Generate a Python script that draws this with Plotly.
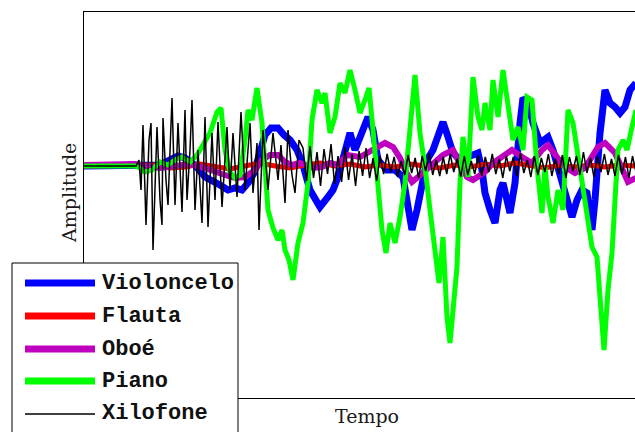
import numpy as np
import plotly.graph_objects as go

# ---------------- data (time in s, amplitude in arbitrary units) ----------------
names = ["Violoncelo", "Flauta", "Oboé", "Piano", "Xilofone"]
colors = ["#0000ff", "#ff0000", "#bf00bf", "#00ff00", "#000000"]
widths = [7, 5, 6, 5, 1.5]

t_violoncelo = [0, 0.56, 0.66, 0.76, 0.86, 0.94, 1.01, 1.11, 1.21, 1.28, 1.36, 1.44, 1.51, 1.58,
                1.64, 1.70, 1.76, 1.81, 1.87, 1.94, 2.00, 2.06, 2.13, 2.19, 2.26, 2.31, 2.36, 2.44,
                2.49, 2.54, 2.61, 2.66, 2.71, 2.78, 2.84, 2.89, 2.94, 3.03, 3.11, 3.19, 3.24, 3.28,
                3.33, 3.38, 3.43, 3.49, 3.54, 3.59, 3.64, 3.69, 3.76, 3.86, 3.94, 3.98, 4.01, 4.06,
                4.11, 4.16, 4.19, 4.26, 4.31, 4.36, 4.39, 4.44, 4.49, 4.56, 4.64, 4.69, 4.76, 4.83,
                4.88, 4.93, 4.98, 5.03, 5.08, 5.11, 5.16, 5.21, 5.26, 5.31, 5.36, 5.41, 5.46, 5.52]
a_violoncelo = [0, 0, 0, 1, 6, 10, 8, 1, -11, -14, -19, -24, -22, -24,
                -17, -7, 16, 31, 38, 38, 31, 26, 16, 1, -24, -34, -41, -31,
                -24, -11, 16, 33, 16, 33, 49, 36, 6, -4, -4, -11, -37, -64,
                -44, -17, 6, 16, 29, 44, 29, 13, 6, 9, 13, -4, -27, -44,
                -57, -24, -17, -47, -17, 43, 68, 63, 43, 23, 29, 16, -11, -37,
                -51, -34, -24, -27, -64, -34, 33, 76, 63, 59, 53, 59, 76, 83]

t_flauta = [0, 0.56, 0.71, 0.86, 1.01, 1.16, 1.31, 1.46, 1.61, 1.76, 1.91, 2.06, 2.21, 2.36,
            2.51, 2.66, 2.81, 2.96, 3.11, 3.26, 3.41, 3.56, 3.71, 3.86, 4.01, 4.16, 4.31, 4.46,
            4.61, 4.76, 4.91, 5.06, 5.21, 5.36, 5.52]
a_flauta = [0, 0, 1, -2, -1, 2, -1, -3, 0, 3, 0, -2, 1, 3,
            0, 2, -1, 1, -1, 2, 0, -2, 1, -1, 2, 0, 3, 0,
            -2, 1, -1, 1, -1, 1, 0]

t_oboe = [0, 0.51, 0.61, 0.76, 0.91, 1.06, 1.21, 1.31, 1.41, 1.51, 1.61, 1.71, 1.78, 1.86,
          1.94, 2.01, 2.08, 2.16, 2.23, 2.29, 2.38, 2.46, 2.54, 2.63, 2.76, 2.89, 3.01, 3.09,
          3.16, 3.22, 3.28, 3.34, 3.42, 3.49, 3.59, 3.69, 3.76, 3.83, 3.89, 4.01, 4.09, 4.18,
          4.28, 4.38, 4.48, 4.58, 4.64, 4.73, 4.81, 4.91, 5.01, 5.14, 5.21, 5.31, 5.38, 5.44, 5.52]
a_oboe = [1, 2, 0, -2, 0, 2, -2, -6, -9, -12, -11, -4, 6, 11,
          11, 4, 1, 3, 1, -2, -1, 3, 1, 11, 9, 16, 23, 19,
          8, -6, -16, -11, -4, 1, 11, 16, 1, -11, -14, -6, 3, 9,
          16, 9, 3, 16, 21, 9, -1, -7, -2, 19, 23, 13, -1, -16, -12]

t_piano = [0, 0.51, 0.56, 0.61, 0.68, 0.76, 0.84, 0.91, 0.98, 1.06, 1.13, 1.19, 1.26, 1.33,
           1.37, 1.41, 1.46, 1.51, 1.56, 1.61, 1.64, 1.68, 1.73, 1.78, 1.81, 1.84, 1.89, 1.94,
           1.98, 2.01, 2.05, 2.09, 2.14, 2.19, 2.24, 2.28, 2.33, 2.38, 2.41, 2.46, 2.51, 2.56,
           2.61, 2.66, 2.71, 2.76, 2.81, 2.85, 2.89, 2.94, 2.98, 3.02, 3.06, 3.11, 3.16, 3.21,
           3.26, 3.31, 3.36, 3.41, 3.46, 3.51, 3.55, 3.59, 3.63, 3.66, 3.69, 3.73, 3.76, 3.79,
           3.84, 3.89, 3.94, 3.98, 4.01, 4.06, 4.09, 4.14, 4.19, 4.24, 4.29, 4.34, 4.39, 4.43,
           4.48, 4.53, 4.58, 4.61, 4.64, 4.69, 4.74, 4.79, 4.84, 4.89, 4.94, 4.99, 5.04, 5.08,
           5.13, 5.16, 5.20, 5.24, 5.28, 5.31, 5.34, 5.39, 5.43, 5.48, 5.52]
a_piano = [0, 0, -2, -6, -4, 4, 1, 6, 9, 4, 11, 21, 33, 54,
           58, 16, -6, -12, -9, 26, 56, 46, 78, 43, -4, -44, -62, -74,
           -64, -84, -94, -114, -77, -57, -17, 46, 76, 63, 73, 33, 49, 83,
           73, 96, 76, 53, 66, 78, 36, -17, -64, -87, -57, -77, -51, -17,
           33, 91, 33, -1, -44, -91, -117, -71, -151, -177, -144, -101, -17, 29,
           -11, 89, 49, 36, 63, 36, 86, 49, 96, 56, 26, 39, 16, 69,
           66, -1, -47, -1, -31, -57, -24, -44, 56, 43, 9, -24, -61, -81,
           -91, -127, -184, -124, -87, -34, 16, 26, 16, 39, 56]

# Xilofone: attack section (irregular samples) + sustained section (evenly sampled)
t_xilofone_attack = [0, 0.52, 0.55, 0.57, 0.59, 0.62, 0.65, 0.67, 0.69, 0.73, 0.76, 0.78, 0.79,
                     0.82, 0.84, 0.88, 0.91, 0.94, 0.98, 1.01, 1.03, 1.06, 1.08, 1.11, 1.14, 1.18,
                     1.21, 1.24, 1.28, 1.31, 1.34, 1.38, 1.43, 1.46, 1.49, 1.53, 1.57, 1.61, 1.66,
                     1.69, 1.73, 1.75, 1.79, 1.84, 1.89, 1.94, 1.97, 2.01, 2.04, 2.08, 2.11, 2.15]
a_xilofone_attack = [0, 0, 6, -24, 41, -59, 26, 43, -84, 39, -34, -59, 48,
                     -14, -39, 68, -39, 43, -46, 56, -34, 16, 66, -44, 16, -57,
                     49, -61, 33, -34, 44, -41, 39, -24, 33, -31, 54, -24, 43,
                     -27, 23, -64, 36, -24, 33, -14, 21, -37, 36, -9, -27, 26]
a_xilofone_sustain = [18, -15, 20, -12, 14, -20, 17, -8, 22, -18, 10, -16, 19, -14, 12, -20,
                      15, -10, 18, -12, 8, -15,
                      10, -8, 12, -6, 9, -11, 5, -9, 11, -7, 8, -12, 10, -5, 13, -9, 6, -10,
                      9, -8, 12, -6, 7, -11, 10, -9, 5, -8, 11, -10, 9, -6, 12, -8, 7, -12,
                      10, -5, 9, -10, 13, -7, 6, -11, 10, -9, 8, -6, 12, -10, 7, -8, 11, -12,
                      9, -5, 10, -9, 14, -7, 8, -11, 10, -6, 12, -9, 7, -10, 11, -8, 9, -12,
                      10, -6]
t_xilofone_sustain_start, t_xilofone_end = 2.19, 5.52

t_xilofone = t_xilofone_attack + list(np.linspace(t_xilofone_sustain_start, t_xilofone_end,
                                                  len(a_xilofone_sustain)))
a_xilofone = a_xilofone_attack + a_xilofone_sustain

series_t = [t_violoncelo, t_flauta, t_oboe, t_piano, t_xilofone]
series_a = [a_violoncelo, a_flauta, a_oboe, a_piano, a_xilofone]

x_range = [0, 5.51]
y_range = [-232, 154]

# ---------------- figure ----------------
W, H = 635, 432
ML, MR, MT, MB = 84, 0, 12, 34
PW, PH = W - ML - MR, H - MT - MB


def px_x(px):
    return (px - ML) / PW


def px_y(py):
    return (H - MB - py) / PH


fig = go.Figure()
for name, col, w, t, a in zip(names, colors, widths, series_t, series_a):
    fig.add_trace(go.Scatter(x=t, y=a, mode="lines", name=name,
                             line=dict(color=col, width=w), showlegend=False))

fig.update_layout(
    width=W, height=H,
    margin=dict(l=ML, r=MR, t=MT, b=MB, pad=0),
    paper_bgcolor="white", plot_bgcolor="white",
    xaxis=dict(range=x_range, showline=True, mirror=True, linecolor="black", linewidth=1,
               showgrid=False, zeroline=False, showticklabels=False, ticks=""),
    yaxis=dict(range=y_range, showline=True, mirror=False, linecolor="black", linewidth=1,
               showgrid=False, zeroline=False, showticklabels=False, ticks=""),
    hovermode=False,
)

label_font = dict(family="DejaVu Serif", size=19, color="#1a1a1a")
fig.add_annotation(text="Tempo", xref="paper", yref="paper", x=px_x(367), y=px_y(416),
                   xanchor="center", yanchor="middle", showarrow=False, font=label_font)
fig.add_annotation(text="Amplitude", xref="paper", yref="paper", x=px_x(69), y=px_y(193),
                   xanchor="center", yanchor="middle", textangle=-90, showarrow=False,
                   font=label_font)

# ---------------- legend box ----------------
fig.add_shape(type="rect", xref="paper", yref="paper", layer="above",
              x0=px_x(12), x1=px_x(238), y0=px_y(445), y1=px_y(263),
              fillcolor="white", line=dict(color="black", width=1))
row_y = [283, 316, 349, 381, 414]
legend_widths = [7, 7, 7, 7, 1.5]
for name, col, lw, ry in zip(names, colors, legend_widths, row_y):
    fig.add_shape(type="line", xref="paper", yref="paper", layer="above",
                  x0=px_x(25), x1=px_x(95), y0=px_y(ry), y1=px_y(ry),
                  line=dict(color=col, width=lw))
    fig.add_annotation(text=name, xref="paper", yref="paper", x=px_x(100), y=px_y(ry),
                       xanchor="left", yanchor="middle", showarrow=False,
                       font=dict(family="Liberation Mono", size=22, color="#111111",
                                 weight="bold"))

fig.write_html("out.html", config={"displayModeBar": False},
               post_script="document.body.style.margin='0';document.body.style.overflow='hidden';")
